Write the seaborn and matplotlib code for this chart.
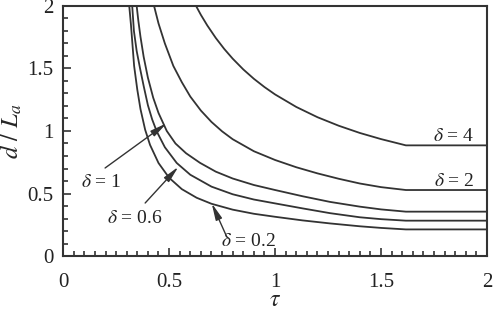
import numpy as np
import pandas as pd
import seaborn as sns
import matplotlib
import matplotlib.pyplot as plt
from matplotlib.ticker import MultipleLocator

matplotlib.use("Agg")

#%% data
deltas = ["0.2", "0.6", "1", "2", "4"]

tau_02 = [0.312, 0.32, 0.335, 0.35, 0.365, 0.387, 0.41, 0.45, 0.50, 0.56, 0.63, 0.70, 0.80, 0.90,
          1.0, 1.13, 1.259, 1.40, 1.50, 1.617, 2.0]
d_02 = [2.0, 1.85, 1.52, 1.33, 1.175, 1.01, 0.889, 0.744, 0.626, 0.535, 0.466, 0.418, 0.371, 0.338,
        0.314, 0.285, 0.261, 0.238, 0.225, 0.213, 0.213]

tau_06 = [0.326, 0.334, 0.347, 0.363, 0.38, 0.40, 0.42, 0.442, 0.48, 0.536, 0.60, 0.70, 0.80, 0.90,
          1.0, 1.13, 1.259, 1.40, 1.50, 1.617, 2.0]
d_06 = [2.0, 1.80, 1.64, 1.50, 1.36, 1.206, 1.093, 0.995, 0.870, 0.744, 0.650, 0.555, 0.494, 0.452,
        0.421, 0.381, 0.343, 0.310, 0.295, 0.283, 0.283]

tau_1 = [0.347, 0.355, 0.365, 0.38, 0.40, 0.425, 0.45, 0.489, 0.53, 0.58, 0.646, 0.72, 0.80, 0.90,
         1.0, 1.13, 1.259, 1.40, 1.50, 1.617, 2.0]
d_1 = [2.0, 1.88, 1.753, 1.593, 1.426, 1.266, 1.144, 1.0, 0.90, 0.822, 0.745, 0.675, 0.62, 0.568,
       0.528, 0.478, 0.433, 0.395, 0.373, 0.355, 0.355]

tau_2 = [0.429, 0.45, 0.48, 0.52, 0.56, 0.60, 0.65, 0.70, 0.75, 0.80, 0.90, 1.0, 1.1, 1.2, 1.3,
         1.4, 1.5, 1.617, 2.0]
d_2 = [2.0, 1.86, 1.70, 1.52, 1.39, 1.275, 1.163, 1.072, 0.997, 0.934, 0.838, 0.768, 0.710, 0.661,
       0.618, 0.580, 0.551, 0.528, 0.528]

tau_4 = [0.627, 0.65, 0.68, 0.72, 0.76, 0.80, 0.85, 0.90, 0.95, 1.0, 1.1, 1.2, 1.3, 1.4, 1.5,
         1.617, 2.0]
d_4 = [2.0, 1.928, 1.844, 1.744, 1.656, 1.578, 1.492, 1.417, 1.351, 1.292, 1.192, 1.110, 1.042,
       0.984, 0.935, 0.885, 0.885]

tick_vals = [0, 0.5, 1, 1.5, 2]
tick_labels = ["0", "0.5", "1", "1.5", "2"]

curves = {"0.2": (tau_02, d_02), "0.6": (tau_06, d_06), "1": (tau_1, d_1),
          "2": (tau_2, d_2), "4": (tau_4, d_4)}
df = pd.concat([pd.DataFrame({"tau": t, "d": d, "delta": k}) for k, (t, d) in curves.items()])

#%% style
sns.set_style("white")
plt.rcParams["font.family"] = ["Liberation Serif", "DejaVu Serif"]
plt.rcParams["mathtext.fontset"] = "stix"
line_c = "#333333"

fig = plt.figure(figsize=(4.93, 3.10), dpi=100)
ax = fig.add_axes([0.128, 0.174, 0.860, 0.807])

sns.lineplot(data=df, x="tau", y="d", hue="delta", units="delta", estimator=None,
             sort=False, palette=[line_c] * len(deltas), legend=False, lw=1.3, ax=ax)

ax.set_xlim(0, 2)
ax.set_ylim(0, 2)
ax.set_xticks(tick_vals)
ax.set_xticklabels(tick_labels)
ax.set_yticks(tick_vals)
ax.set_yticklabels(tick_labels)
ax.xaxis.set_minor_locator(MultipleLocator(0.05))
ax.yaxis.set_minor_locator(MultipleLocator(0.1))
ax.tick_params(which="both", direction="in", top=False, right=False,
               bottom=True, left=True, width=1.2, colors="#333333",
               labelsize=15, labelcolor="#222222")
ax.tick_params(which="major", length=6)
ax.tick_params(which="minor", length=3.5)
ax.tick_params(axis="x", which="major", pad=12)
ax.tick_params(axis="y", which="major", pad=7)
for s in ax.spines.values():
    s.set_linewidth(1.5)
    s.set_color("#333333")

ax.set_xlabel(r"$\tau$", fontsize=17, labelpad=-1)
ax.set_ylabel(r"$d\ /\ L_a$", fontsize=18, labelpad=2)

#%% labels and arrows
tk = dict(fontsize=14, color="#222222", ha="center", va="center")
arr = dict(arrowstyle="-|>,head_length=1.0,head_width=0.2", color=line_c, lw=1.0,
           shrinkA=0, shrinkB=0)
ax.text(1.844, 0.955, r"$\delta$ = 4", **tk)
ax.text(1.844, 0.595, r"$\delta$ = 2", **tk)
ax.annotate("", xy=(0.489, 1.062), xytext=(0.198, 0.704), arrowprops=arr)
ax.text(0.179, 0.592, r"$\delta$ = 1", **tk)
ax.annotate("", xy=(0.544, 0.714), xytext=(0.387, 0.424), arrowprops=arr)
ax.text(0.340, 0.304, r"$\delta$ = 0.6", **tk)
ax.annotate("", xy=(0.701, 0.422), xytext=(0.772, 0.154), arrowprops=arr)
ax.text(0.873, 0.12, r"$\delta$ = 0.2", **tk)

fig.savefig("out.png", dpi=100)
